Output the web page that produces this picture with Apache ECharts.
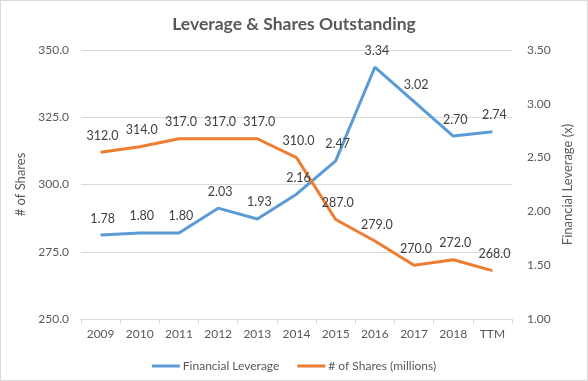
<!DOCTYPE html>
<html><head><meta charset="utf-8">
<script src="https://cdn.jsdelivr.net/npm/echarts@6/dist/echarts.min.js"></script>
<style>html,body{margin:0;padding:0;background:#fff}#c{width:588px;height:381px;box-sizing:border-box;border:1px solid #d9d9d9}</style>
</head><body><div id="c"></div>
<script>
const categories = ['2009','2010','2011','2012','2013','2014','2015','2016','2017','2018','TTM'];
const leverage = [1.78,1.80,1.80,2.03,1.93,2.16,2.47,3.34,3.02,2.70,2.74];
const shares = [312,314,317,317,317,310,287,279,270,272,268];
const leftTicks = {min:250,max:350,interval:25};
const rightTicks = {min:1,max:3.5,interval:0.5};

const FONT = 'Lato';
const chart = echarts.init(document.getElementById('c'), null, {renderer:'canvas'});
chart.setOption({
  animation:false,
  textStyle:{fontFamily:FONT},
  title:{text:'Leverage & Shares Outstanding',left:'center',top:9,
    textStyle:{fontFamily:FONT,fontSize:17.5,fontWeight:'bold',color:'#595959'}},
  grid:{left:80,right:75,top:49,bottom:61,containLabel:false},
  legend:{bottom:3,left:'center',itemWidth:28,itemHeight:3,itemGap:18,icon:'rect',
    textStyle:{fontFamily:FONT,fontSize:12,color:'#595959',padding:[0,0,0,-2]},
    data:['Financial Leverage','# of Shares (millions)']},
  xAxis:{type:'category',data:categories,boundaryGap:true,
    axisLine:{lineStyle:{color:'#d9d9d9'}},
    axisTick:{show:true,length:5,lineStyle:{color:'#d9d9d9'}},
    axisLabel:{color:'#595959',fontSize:12,margin:9}},
  yAxis:[
    {type:'value',min:leftTicks.min,max:leftTicks.max,interval:leftTicks.interval,
     name:'# of Shares',nameLocation:'middle',nameRotate:90,nameGap:46,
     nameTextStyle:{color:'#595959',fontSize:13},
     axisLabel:{color:'#595959',fontSize:12,margin:12,formatter:v=>v.toFixed(1)},
     axisLine:{show:false},axisTick:{show:false},
     splitLine:{lineStyle:{color:'#d9d9d9'}}},
    {type:'value',min:rightTicks.min,max:rightTicks.max,interval:rightTicks.interval,position:'right',
     name:'Financial Leverage (x)',nameLocation:'middle',nameRotate:90,nameGap:45,
     nameTextStyle:{color:'#595959',fontSize:13},
     axisLabel:{color:'#595959',fontSize:12,margin:15,formatter:v=>v.toFixed(2)},
     axisLine:{show:false},axisTick:{show:false},splitLine:{show:false}}
  ],
  series:[
    {name:'Financial Leverage',type:'line',yAxisIndex:1,data:leverage,symbol:'circle',symbolSize:0,showSymbol:true,
     lineStyle:{color:'#5B9BD5',width:3},itemStyle:{color:'#5B9BD5'},
     label:{show:true,position:'top',distance:10,offset:[2,0],color:'#404040',fontSize:12.5,formatter:p=>p.value.toFixed(2)}},
    {name:'# of Shares (millions)',type:'line',yAxisIndex:0,data:shares,symbol:'circle',symbolSize:0,showSymbol:true,
     lineStyle:{color:'#ED7D31',width:3},itemStyle:{color:'#ED7D31'},
     label:{show:true,position:'top',distance:10,offset:[2,0],color:'#404040',fontSize:12.5,formatter:p=>p.value.toFixed(1)}}
  ]
});
</script></body></html>
